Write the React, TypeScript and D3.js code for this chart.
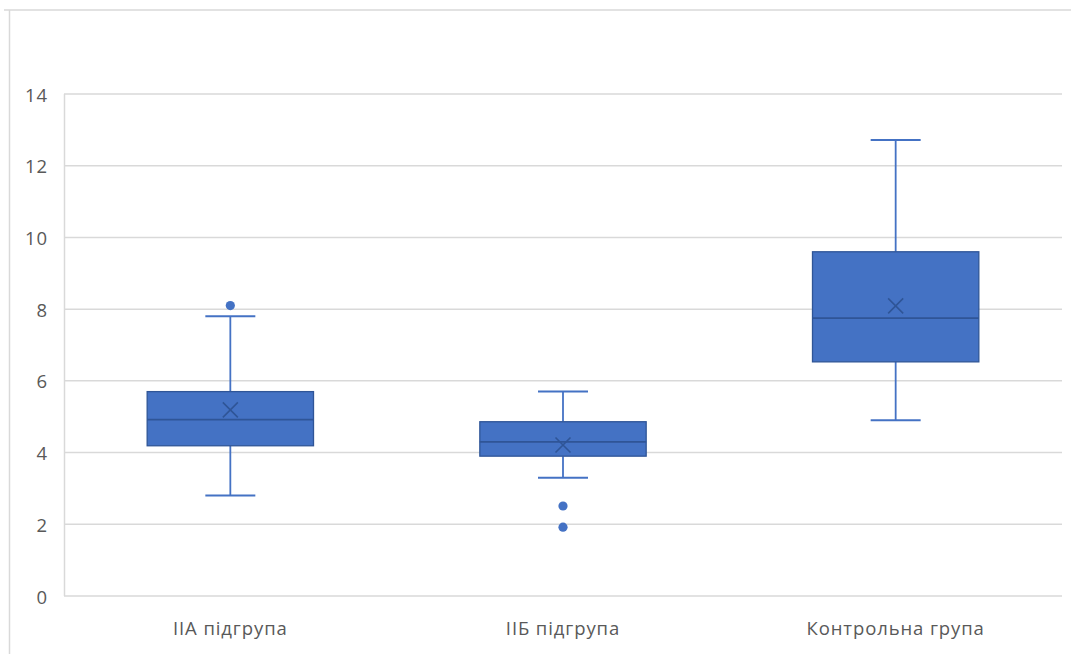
import React from "react";
import * as d3 from "d3";

const categories = ["IIA підгрупа", "IIБ підгрупа", "Контрольна група"];
const whiskerLow = [2.8, 3.3, 4.9];
const q1 = [4.19, 3.9, 6.53];
const median = [4.92, 4.3, 7.75];
const q3 = [5.7, 4.86, 9.6];
const whiskerHigh = [7.8, 5.7, 12.72];
const means = [5.19, 4.21, 8.09];
const outliers = [[8.1], [2.51, 1.92], []];
const yTicks = [0, 2, 4, 6, 8, 10, 12, 14];

const W = 1071;
const H = 654;
const plot = { left: 64, right: 1062, top: 94, bottom: 596 };

const FILL = "#4472C4";
const EDGE = "#2F5597";
const GRID = "#D9D9D9";
const TEXT = "#595959";
const FONT = "'Open Sans', 'Noto Sans', sans-serif";
const FS = 18.5;
const LS = 0.9;

export default function App() {
  const x = d3
    .scaleBand<string>()
    .domain(categories)
    .range([plot.left, plot.right])
    .paddingInner(0)
    .paddingOuter(0);
  const y = d3.scaleLinear().domain([0, 14]).range([plot.bottom, plot.top]);

  const bw = x.bandwidth();
  const boxW = bw * 0.5;
  const capW = 50;
  const xs = 7.5;

  return (
    <svg
      width={W}
      height={H}
      style={{ position: "absolute", left: 0, top: 0, background: "#fff" }}
    >
      {/* chart area border */}
      <line x1={4} x2={W} y1={10} y2={10} stroke={GRID} strokeWidth={1.5} />
      <line x1={9.5} x2={9.5} y1={10} y2={H} stroke={GRID} strokeWidth={1.5} />

      {/* gridlines and y tick labels */}
      {yTicks.map((t) => (
        <g key={t}>
          <line
            x1={plot.left}
            x2={plot.right}
            y1={y(t)}
            y2={y(t)}
            stroke={GRID}
            strokeWidth={1.5}
          />
          <text
            x={48}
            y={y(t)}
            textAnchor="end"
            dominantBaseline="central"
            fontFamily={FONT}
            fontSize={FS}
            letterSpacing={LS}
            fill={TEXT}
          >
            {t}
          </text>
        </g>
      ))}
      <line
        x1={plot.left + 0.5}
        x2={plot.left + 0.5}
        y1={plot.top}
        y2={plot.bottom}
        stroke={GRID}
        strokeWidth={1.5}
      />

      {/* boxes */}
      {categories.map((c, i) => {
        const cx = (x(c) as number) + bw / 2;
        return (
          <g key={c}>
            <line
              x1={cx}
              x2={cx}
              y1={y(whiskerHigh[i])}
              y2={y(q3[i])}
              stroke={FILL}
              strokeWidth={1.8}
            />
            <line
              x1={cx}
              x2={cx}
              y1={y(q1[i])}
              y2={y(whiskerLow[i])}
              stroke={FILL}
              strokeWidth={1.8}
            />
            <line
              x1={cx - capW / 2}
              x2={cx + capW / 2}
              y1={y(whiskerHigh[i])}
              y2={y(whiskerHigh[i])}
              stroke={FILL}
              strokeWidth={2}
            />
            <line
              x1={cx - capW / 2}
              x2={cx + capW / 2}
              y1={y(whiskerLow[i])}
              y2={y(whiskerLow[i])}
              stroke={FILL}
              strokeWidth={2}
            />
            <rect
              x={cx - boxW / 2}
              y={y(q3[i])}
              width={boxW}
              height={y(q1[i]) - y(q3[i])}
              fill={FILL}
              stroke={EDGE}
              strokeWidth={1.3}
            />
            <line
              x1={cx - boxW / 2}
              x2={cx + boxW / 2}
              y1={y(median[i])}
              y2={y(median[i])}
              stroke={EDGE}
              strokeWidth={1.8}
            />
            <path
              d={`M${cx - xs},${y(means[i]) - xs}L${cx + xs},${y(means[i]) + xs}M${cx - xs},${y(means[i]) + xs}L${cx + xs},${y(means[i]) - xs}`}
              stroke={EDGE}
              strokeWidth={1.6}
              fill="none"
            />
            {outliers[i].map((o, j) => (
              <circle key={j} cx={cx} cy={y(o)} r={4.6} fill={FILL} />
            ))}
            <text
              x={cx}
              y={635}
              textAnchor="middle"
              fontFamily={FONT}
              fontSize={FS}
              letterSpacing={LS}
              fill={TEXT}
            >
              {c}
            </text>
          </g>
        );
      })}
    </svg>
  );
}
